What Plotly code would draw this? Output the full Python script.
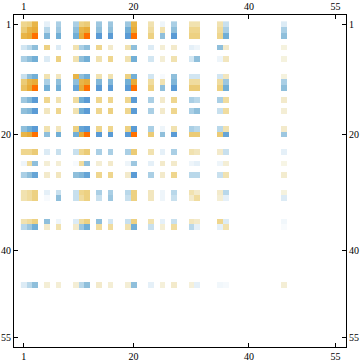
import plotly.graph_objects as go

N = 55
indices = [1, 2, 3, 5, 7, 10, 11, 12, 14, 16, 19, 20, 23, 25, 27, 30, 31, 35, 36, 46]
tick_vals = [1, 20, 40, 55]

row_1  = [4, 4.5, 6, -1.5, -4, -4, 4.5, 5, -4.5, -4.5, -4.5, 6, 3, -1, -4, 3, 3, 3, -3, -2]
row_2  = [5, 6, 6.5, -3.5, -4.5, -5, 6, 6.5, -5, -5, -6, 6.5, 3.5, 3, -5, 4, 4, 3.5, -4, -4]
row_3  = [6, 6.5, 8, -5.5, -6, -6, 6.5, 8, -7, -7, -7, 8, 4.5, -5, -7, 4.5, 4.5, 4, -6, -5]
row_5  = [-2.5, -3.5, -5, 4.5, -2, 3, -4, -5, 4, 2, 3, -5, -2, 1.5, 2, -1.5, -1, -5, 2, 1]
row_7  = [-4, -5, -6, -2, 4.5, 3, -5, -6, 3, 4, 3, -6, -2.5, 1.5, 3, -2.5, -5, -1, 2.5, 1]
row_10 = [-3, -5, -6, 3, 2.5, 6, -5, -6, 3, 3, 4.5, -6, -2.5, -0.5, -5, -2.5, -2.5, -2.5, 2.5, 1]
row_11 = [5, 6, 6.5, -4, -5, -5, 6, 6.5, -5.5, -5.5, -6, 6.5, 3.5, 3, -5.5, 3.5, 3.5, 3.5, -4.5, -4]
row_12 = [5.5, 6.5, 8, -6, -6, -6.5, 6.5, 8, -7, -7, -7, 8, 4.5, -5, -7, 5, 5, 4.5, -6, -5]
row_14 = [-4.5, -5.5, -7, 4, 3, 3.5, -6, -7, 4, 4, 4, -7, -4, 2, 4, -4, -3.5, -4, 3.5, 2]
row_16 = [-5, -5.5, -7, 2.5, 4, 3, -6, -7, 4, 4.5, 4, -7, -4, 2, 4, -4, -5, -3, 3.5, 1.5]
row_19 = [-5, -6, -7, 3, 2.5, 4.5, -6.5, -7, 4, 4, 4.5, -7, -4, -1, 3, -4, -3.5, -3.5, 3, 2]
row_20 = [6, 6.5, 8, -5, -6, -6, 6.5, 8, -7, -7, -7, 8, 5, -5, -7, 5, 5, 5, -6.5, -4.5]
row_23 = [4, 4, 5, -2, -3, -3, 4, 5, -4, -4, -4, 5, 3, -1.5, -4, 3, 2.5, 2, -3, -1.5]
row_25 = [-1, 3.5, -5, 1.5, 1.5, -0.5, 3.5, -5, 1.5, 2, -1, -4.5, -1.5, 2, 2, -1, -1.5, -1, 1.5, 0.8]
row_27 = [-4, -5, -6.5, 2, 2.5, -5, -5.5, -6.5, 4, 4, 2, -7, -4, 2, 4, -3.5, -3.5, -3, 3, 1.8]
row_30 = [3, 3.5, 4.5, -1.5, -3, -3, 4, 4.5, -4, -4, -3.5, 4.5, 2.5, -1, -3.5, 3, 2, 2, -3.5, 1]
row_31 = [3, 3.5, 4.5, -0.5, -5, -3, 3.5, 4.5, -3, -4.5, -3, 4.5, 2.5, -1, -3, 2, 3.5, 1.5, -1.5, -2]
row_35 = [3, 3.5, 4.5, -5, -1, -2, 3.5, 4.5, -5, -2.5, -3, 4.5, 3, -1.5, -3, 2.5, 2, 4, -2, -0.8]
row_36 = [-3.5, -4.5, -6, 2, 3, 2, -4.5, -6, 3.5, 3.5, 3, -6, -3, 1.5, 3.5, -3.5, -1.5, -1.5, 3, -0.4]
row_46 = [-2, -3.5, -5, 1.5, 1.5, 1.5, -3.5, -5, 2, 1.5, 1.5, -5, -1.5, 1.2, 2, 1.2, -1.5, -0.8, -0.6, 1.5]

rows = [row_1, row_2, row_3, row_5, row_7, row_10, row_11, row_12, row_14, row_16,
        row_19, row_20, row_23, row_25, row_27, row_30, row_31, row_35, row_36, row_46]

levels = [-8, -7, -6, -5, -4, -3, -2, -1, 0, 1, 2, 3, 4, 5, 6, 7, 8]
level_colors = ["#4F93D0", "#5A9BD5", "#72AFD6", "#8FBFDB", "#AACFE5", "#C8E0EE", "#DCEBF5", "#EEF5FA",
                "#FFFFFF", "#F5F2DE", "#F3EACB", "#F1E2B0", "#EFD68E", "#EBCB76", "#E8B548", "#E8A22A", "#FF7000"]
colorscale = [[(v + 8) / 16, c] for v, c in zip(levels, level_colors)]

axis_numbers = list(range(1, N + 1))
matrix = [[None] * N for _ in range(N)]
for r, vals in zip(indices, rows):
    for c, v in zip(indices, vals):
        matrix[r - 1][c - 1] = v

fig = go.Figure()
fig.add_trace(go.Heatmap(x=axis_numbers, y=axis_numbers, z=matrix, zmin=-8, zmax=8,
                         colorscale=colorscale, showscale=False, hoverongaps=False))
fig.add_trace(go.Scatter(x=[None], y=[None], xaxis="x2", yaxis="y2", showlegend=False, hoverinfo="skip"))

font = dict(family="Liberation Serif", size=10, color="#000000")
xr = [-0.69, 56.82]
yr = [56.6, -0.6]
base = dict(tickmode="array", tickvals=tick_vals, ticktext=[str(t) for t in tick_vals],
            ticks="inside", ticklen=4, tickwidth=1, tickcolor="#000000", showgrid=False, zeroline=False,
            showline=True, linecolor="#000000", linewidth=1, tickfont=font, automargin=False)
fig.update_layout(
    width=360, height=363, margin=dict(l=13.5, r=13.5, t=15, b=15.7),
    paper_bgcolor="#FFFFFF", plot_bgcolor="#FFFFFF", showlegend=False,
    xaxis=dict(range=xr, side="bottom", **base),
    yaxis=dict(range=yr, side="left", **base),
    xaxis2=dict(range=xr, side="top", overlaying="x", **base),
    yaxis2=dict(range=yr, side="right", overlaying="y", **base),
)
fig.write_html("out.html", config=dict(displayModeBar=False),
               post_script="document.body.style.margin='0';document.documentElement.style.overflow='hidden';")
